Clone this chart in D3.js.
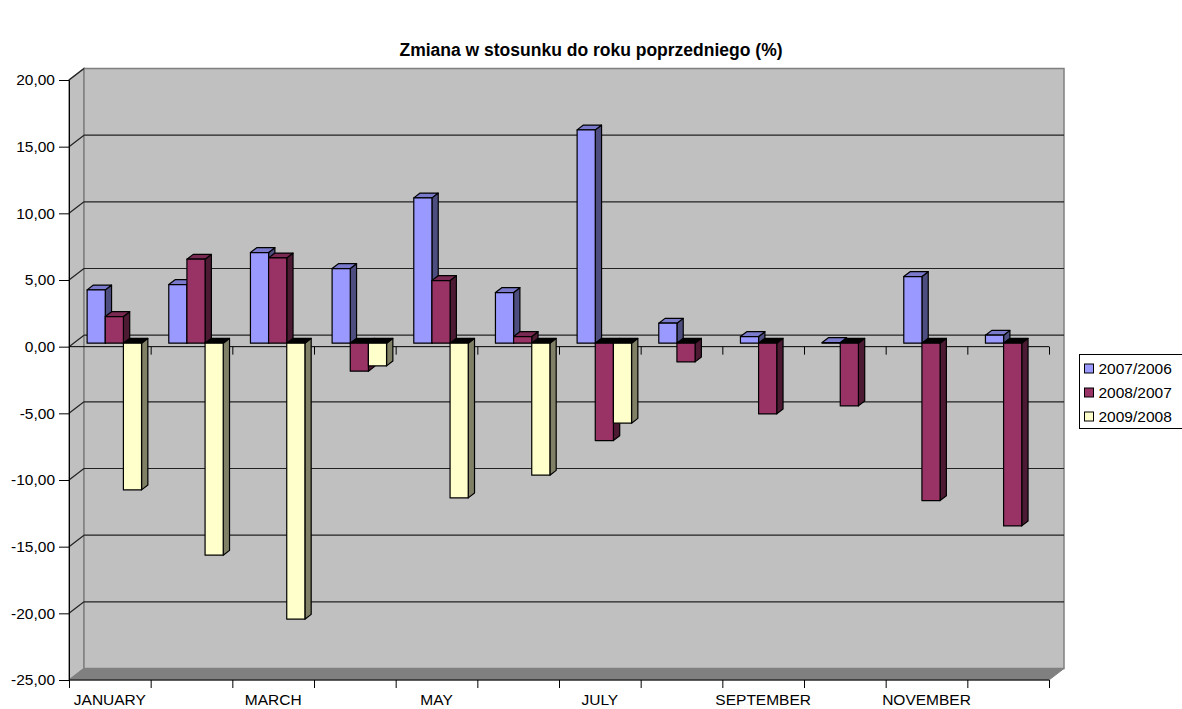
<!DOCTYPE html>
<html>
<head>
<meta charset="utf-8">
<script src="https://cdn.jsdelivr.net/npm/d3@7"></script>
<style>
  body { margin: 0; background: #fff; }
  svg { display: block; font-family: Arial, "Liberation Sans", sans-serif; }
</style>
</head>
<body>
<svg id="chart" width="1182" height="709"></svg>
<script>
// donnees
const mois = ["JANUARY", "FEBRUARY", "MARCH", "APRIL", "MAY", "JUNE", "JULY",
              "AUGUST", "SEPTEMBER", "OCTOBER", "NOVEMBER", "DECEMBER"];
const series = ["2007/2006", "2008/2007", "2009/2008"];
const val2007 = [4.0, 4.4, 6.8, 5.6, 10.9, 3.8, 16.0, 1.5, 0.5, 0.05, 5.0, 0.6];
const val2008 = [2.0, 6.3, 6.4, -2.1, 4.7, 0.5, -7.3, -1.4, -5.3, -4.7, -11.8, -13.7];
const val2009 = [-11.0, -15.9, -20.7, -1.7, -11.6, -9.9, -6.0, null, null, null, null, null];
const yTicks = [-25, -20, -15, -10, -5, 0, 5, 10, 15, 20];

const couleurs = [
  {face: "#9999FF", cote: "#4D4D80", dessus: "#7A7ACC"},
  {face: "#993366", cote: "#4D1A33", dessus: "#7A2952"},
  {face: "#FFFFCC", cote: "#808066", dessus: "#B3B38F"}
];
const valeurs = [val2007, val2008, val2009];

const svg = d3.select("#chart");
const fr = d3.formatLocale({decimal: ",", thousands: " ", grouping: [3], currency: ["", ""], minus: "-"});
const fmt = fr.format(".2f");

// perspective
const prof = {dx: 15, dy: -11.5};
const yScale = d3.scaleLinear().domain([-25, 20]).range([680, 80]);
const xScale = d3.scaleBand().domain(mois).range([69, 1049]);
const xBord = d3.scaleLinear().domain([0, 12]).range([69, 1049]);

// titre
svg.append("text")
  .attr("x", 591).attr("y", 56)
  .attr("text-anchor", "middle")
  .style("font-size", "17.5px").style("font-weight", "bold")
  .text("Zmiana w stosunku do roku poprzedniego (%)");

const x0 = 69, x1 = 1049, yHaut = yScale(20), yBas = yScale(-25);
const pt = (x, y) => x + "," + y;

// mur lateral
svg.append("polygon")
  .attr("points", [pt(x0, yHaut), pt(x0 + prof.dx, yHaut + prof.dy), pt(x0 + prof.dx, yBas + prof.dy), pt(x0, yBas)].join(" "))
  .attr("fill", "#C0C0C0").attr("stroke", "#808080").attr("stroke-width", 1.5);

// mur du fond
svg.append("rect")
  .attr("x", x0 + prof.dx).attr("y", yHaut + prof.dy)
  .attr("width", x1 - x0).attr("height", yBas - yHaut)
  .attr("fill", "#C0C0C0").attr("stroke", "#808080").attr("stroke-width", 1.5);

// sol
svg.append("polygon")
  .attr("points", [pt(x0, yBas), pt(x1, yBas), pt(x1 + prof.dx, yBas + prof.dy), pt(x0 + prof.dx, yBas + prof.dy)].join(" "))
  .attr("fill", "#808080").attr("stroke", "#808080");

// quadrillage (fond + cote)
const grille = yTicks.filter(d => d > -25 && d < 20);
svg.append("g").selectAll("line").data(grille).enter().append("line")
  .attr("x1", x0 + prof.dx).attr("x2", x1 + prof.dx)
  .attr("y1", d => yScale(d) + prof.dy).attr("y2", d => yScale(d) + prof.dy)
  .attr("stroke", "#222").attr("stroke-width", 1.2);
svg.append("g").selectAll("line").data(grille.concat([20])).enter().append("line")
  .attr("x1", x0).attr("x2", x0 + prof.dx)
  .attr("y1", d => yScale(d)).attr("y2", d => yScale(d) + prof.dy)
  .attr("stroke", "#222").attr("stroke-width", 1.2);

// axe Y
svg.append("g")
  .attr("transform", `translate(${x0},0)`)
  .call(d3.axisLeft(yScale).tickValues(yTicks).tickSize(10).tickPadding(4).tickFormat(fmt))
  .call(g => g.selectAll("text").style("font-size", "15.5px").attr("fill", "#000"))
  .call(g => g.selectAll("line, path").attr("stroke", "#000"));

// axe des categories a zero
svg.append("g")
  .attr("transform", `translate(0,${yScale(0)})`)
  .call(d3.axisBottom(xBord).ticks(12).tickSize(8).tickFormat(""))
  .call(g => g.select(".domain").attr("d", `M${x0},0H${x1}`))
  .call(g => g.selectAll("line, path").attr("stroke", "#000"));

// barres 3D
const lb = xScale.bandwidth() / 4.5;
const ecart = lb * 0.75;
const f0 = 0.3, fp = 0.42;
const off = {dx: prof.dx * f0, dy: prof.dy * f0};
const pb = {dx: prof.dx * fp, dy: prof.dy * fp};

const barres = [];
mois.forEach((m, j) => {
  valeurs.forEach((s, i) => {
    if (s[j] === null) return;
    barres.push({mois: m, serie: i, v: s[j]});
  });
});

const gBarres = svg.append("g");
barres.forEach(b => {
  const c = couleurs[b.serie];
  const bx = xScale(b.mois) + ecart + b.serie * lb + off.dx;
  const yv = yScale(b.v) + off.dy, y0 = yScale(0) + off.dy;
  const yt = Math.min(yv, y0), yb = Math.max(yv, y0);
  const g = gBarres.append("g").attr("stroke", "#000").attr("stroke-width", 1.2).attr("stroke-linejoin", "round");
  // cote
  g.append("polygon")
    .attr("points", [pt(bx + lb, yt), pt(bx + lb + pb.dx, yt + pb.dy), pt(bx + lb + pb.dx, yb + pb.dy), pt(bx + lb, yb)].join(" "))
    .attr("fill", c.cote);
  // dessus
  g.append("polygon")
    .attr("points", [pt(bx, yt), pt(bx + lb, yt), pt(bx + lb + pb.dx, yt + pb.dy), pt(bx + pb.dx, yt + pb.dy)].join(" "))
    .attr("fill", b.v >= 0 ? c.dessus : "#000");
  // face
  g.append("rect")
    .attr("x", bx).attr("y", yt)
    .attr("width", lb).attr("height", yb - yt)
    .attr("fill", c.face);
});

// axe du bas
svg.append("g")
  .attr("transform", `translate(0,${yBas})`)
  .call(d3.axisBottom(xBord).ticks(12).tickSize(8).tickFormat(""))
  .call(g => g.select(".domain").attr("d", `M${x0},0H${x1}`))
  .call(g => g.selectAll("line, path").attr("stroke", "#000"));
svg.append("g")
  .attr("transform", `translate(0,${yBas})`)
  .call(d3.axisBottom(xScale).tickSize(0).tickPadding(14).tickFormat((d, i) => i % 2 === 0 ? d : ""))
  .call(g => g.select(".domain").remove())
  .call(g => g.selectAll("text").style("font-size", "15.5px").attr("fill", "#000"));

// legende
const leg = svg.append("g").attr("transform", "translate(1079.5,354.5)");
leg.append("rect").attr("width", 120).attr("height", 74)
  .attr("fill", "#fff").attr("stroke", "#000");
series.forEach((s, i) => {
  const r = leg.append("g").attr("transform", `translate(5,${14 + i * 24})`);
  r.append("rect").attr("x", 0).attr("y", -4.5).attr("width", 9).attr("height", 9)
    .attr("fill", couleurs[i].face).attr("stroke", "#000");
  r.append("text").attr("x", 14).attr("dy", "0.35em")
    .style("font-size", "15.5px").text(s);
});
</script>
</body>
</html>
